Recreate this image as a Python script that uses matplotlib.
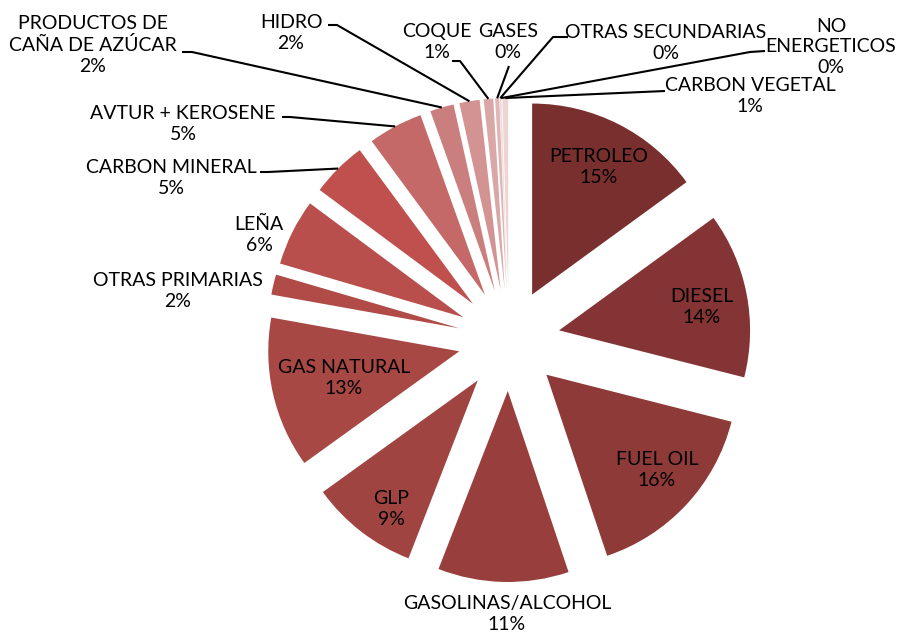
import math
import matplotlib.pyplot as plt

W, H = 902, 638

# datos (porcentaje del consumo por fuente)
fuentes = ["PETROLEO", "DIESEL", "FUEL OIL", "GASOLINAS/ALCOHOL", "GLP",
           "GAS NATURAL", "OTRAS PRIMARIAS", "LEÑA", "CARBON MINERAL",
           "AVTUR + KEROSENE", "PRODUCTOS DE\nCAÑA DE AZÚCAR", "HIDRO",
           "COQUE", "GASES", "OTRAS SECUNDARIAS", "NO\nENERGETICOS",
           "CARBON VEGETAL"]
valores = [14.9, 13.9, 15.8, 11.0, 9.1, 12.7, 1.7, 5.6, 4.7, 4.6, 2.0, 1.7,
           0.8, 0.35, 0.05, 0.05, 0.5]
colores = ["#7a2f2f", "#843434", "#8e3a38", "#983f3d", "#a04441", "#a84845",
           "#b04b47", "#b84f4c", "#c0504d", "#c46967", "#ca7e7d", "#d29392",
           "#d9a7a6", "#dfb6b5", "#e4c2c1", "#e8cbca", "#edd5d4"]

# posicion de cada etiqueta (centro del bloque, en pixeles)
etq_x = [599, 702, 657, 507, 391, 344, 178, 259, 171, 183, 93, 291, 437, 508,
         666, 831, 750]
etq_y = [167, 307, 470, 614, 509, 378, 291, 235, 178, 124, 45, 33, 42, 42,
         43, 47, 96]

# lineas guia: inicio y codo (None = sin linea)
guia_ini = [None, None, None, None, None, None, None, None, (260, 172),
            (282, 117), (182, 52), (328, 25), (452, 61), (509, 66),
            (568, 37), (765, 51), (665, 91)]
guia_codo = [None, None, None, None, None, None, None, None, (268, 172),
             (290, 117), (192, 52), (337, 25), (460, 61), None,
             (553, 37), (750, 52), None]

CENTRO = (509, 340)
RADIO = 191
EXPLOTE = 51


def px(x, y):
    return x, H - y


fig = plt.figure(figsize=(W / 100, H / 100), dpi=100)
ax = fig.add_axes([0, 0, 1, 1])

wedges, _ = ax.pie(valores, colors=colores, startangle=90, counterclock=False,
                   radius=RADIO, center=px(*CENTRO),
                   explode=[EXPLOTE] * len(valores),
                   wedgeprops=dict(linewidth=0))
ax.set_xlim(0, W)
ax.set_ylim(0, H)
ax.set_aspect('equal')
ax.axis('off')

total = sum(valores)
for i, w in enumerate(wedges):
    pct = int(valores[i] / total * 100 + 0.5)
    x, y = px(etq_x[i], etq_y[i])
    ax.text(x, y, f"{fuentes[i]}\n{pct}%", ha='center', va='center',
            fontsize=14, family='Lato', linespacing=1.26)

    if guia_ini[i] is None:
        continue
    m = math.radians((w.theta1 + w.theta2) / 2)
    fin = (w.center[0] + w.r * math.cos(m), w.center[1] + w.r * math.sin(m))
    pts = [px(*guia_ini[i])]
    if guia_codo[i] is not None:
        pts.append(px(*guia_codo[i]))
    pts.append(fin)
    ax.plot([p[0] for p in pts], [p[1] for p in pts], color='black', lw=1.5,
            solid_capstyle='butt')

fig.savefig("out.png", dpi=100)
